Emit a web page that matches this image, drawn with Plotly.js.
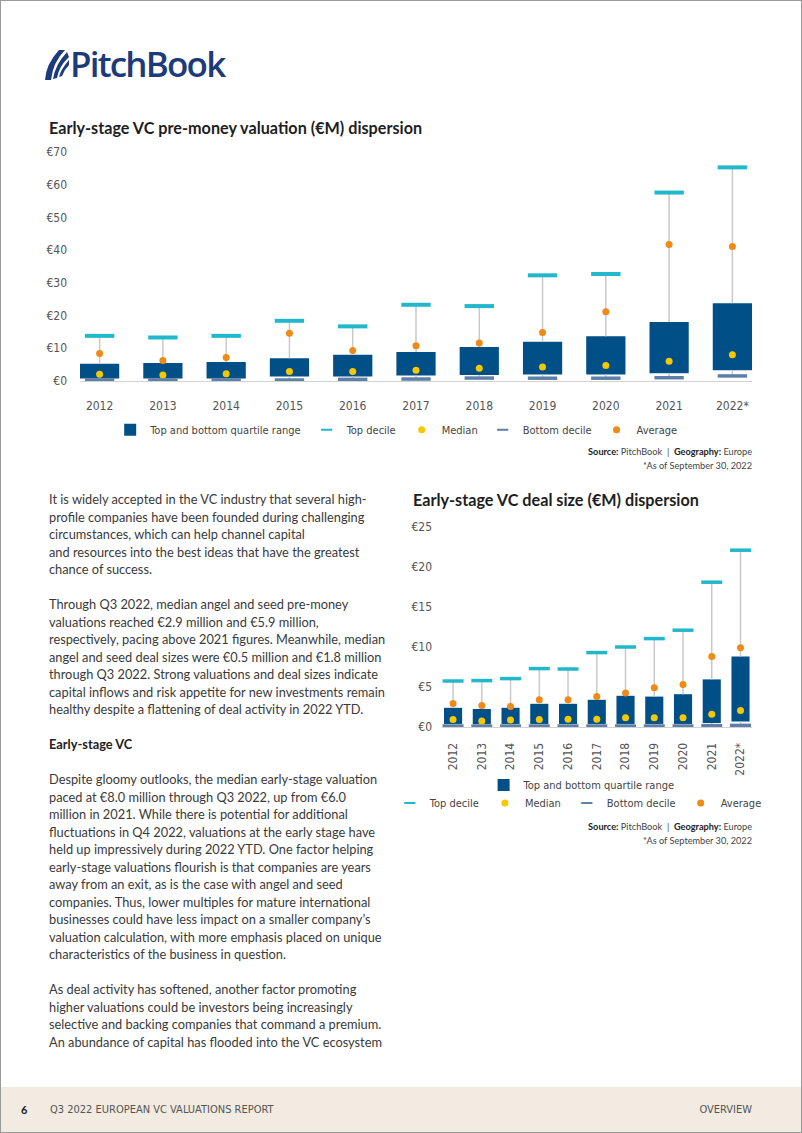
<!DOCTYPE html>
<html>
<head>
<meta charset="utf-8">
<script src="https://cdn.plot.ly/plotly-3.0.1.min.js"></script>
<style>
  html, body { margin:0; padding:0; }
  body { width:802px; height:1133px; position:relative; background:#fff; overflow:hidden; font-family: Lato, "Open Sans", sans-serif; }
  .frame { position:absolute; left:0; top:0; width:800px; height:1131px; border:1px solid #9a9a9a; pointer-events:none; z-index:5; }
  .logo { position:absolute; left:44px; top:49px; }
  .logotext { position:absolute; left:70px; top:39px; font-family:"Open Sans", Lato, sans-serif; font-weight:600; font-size:35px; letter-spacing:-1.8px; color:#1c3b7b; line-height:50px; }
  .ctitle { position:absolute; font-family:Lato, sans-serif; font-weight:700; font-size:16.2px; color:#1e1e1e; white-space:nowrap; line-height:20px; }
  .source { position:absolute; right:50px; font-family:Lato, sans-serif; font-size:9.2px; color:#444; text-align:right; line-height:14px; white-space:nowrap; }
  .source b { color:#222; }
  .bodytext { position:absolute; left:49px; top:491px; font-family:Lato, sans-serif; font-size:12.8px; line-height:17.5px; color:#3a3a3a; white-space:nowrap; }
  .bodytext b { color:#222; }
  .footer { position:absolute; left:0; top:1087px; width:802px; height:46px; background:#f1ebe1; font-family:"Liberation Sans Narrow", "DejaVu Sans Condensed", sans-serif; font-size:11px; color:#555; }
  .footer .pg { position:absolute; left:21px; top:16px; font-family:Lato, sans-serif; font-weight:700; font-size:11px; color:#222; }
  .footer .rep { position:absolute; left:50px; top:16px; }
  .footer .sec { position:absolute; right:50px; top:16px; }
  #chart1 { position:absolute; left:0; top:140px; width:802px; height:310px; }
  #chart2 { position:absolute; left:400px; top:515px; width:402px; height:320px; }
</style>
</head>
<body>
<div class="frame"></div>
<svg class="logo" width="26" height="32" viewBox="0 0 26 32">
  <path d="M1,31 Q2,15 15,1 L21,1 Q9,13 7,31 Z" fill="#1c3b7b"/>
  <path d="M9,30 Q11,16 23,3 L25,8 Q15,17 13,29 Z" fill="#1c3b7b"/>
  <path d="M15,28 Q17,20 25,11 L25,16 Q20,21 18,27 Z" fill="#1c3b7b"/>
</svg>
<div class="logotext">PitchBook</div>

<div class="ctitle" style="left:49px; top:118px;">Early-stage VC pre-money valuation (€M) dispersion</div>
<div id="chart1"></div>
<div class="source" style="top:445px;"><b>Source:</b> PitchBook &nbsp;|&nbsp; <b>Geography:</b> Europe<br>*As of September 30, 2022</div>

<div class="ctitle" style="left:413px; top:490px;">Early-stage VC deal size (€M) dispersion</div>
<div id="chart2"></div>
<div class="source" style="top:820px;"><b>Source:</b> PitchBook &nbsp;|&nbsp; <b>Geography:</b> Europe<br>*As of September 30, 2022</div>

<div class="bodytext">It is widely accepted in the VC industry that several high-<br>profile companies have been founded during challenging<br>circumstances, which can help channel capital<br>and resources into the best ideas that have the greatest<br>chance of success.<br><br>Through Q3 2022, median angel and seed pre-money<br>valuations reached €2.9 million and €5.9 million,<br>respectively, pacing above 2021 figures. Meanwhile, median<br>angel and seed deal sizes were €0.5 million and €1.8 million<br>through Q3 2022. Strong valuations and deal sizes indicate<br>capital inflows and risk appetite for new investments remain<br>healthy despite a flattening of deal activity in 2022 YTD.<br><br><b>Early-stage VC</b><br><br>Despite gloomy outlooks, the median early-stage valuation<br>paced at €8.0 million through Q3 2022, up from €6.0<br>million in 2021. While there is potential for additional<br>fluctuations in Q4 2022, valuations at the early stage have<br>held up impressively during 2022 YTD. One factor helping<br>early-stage valuations flourish is that companies are years<br>away from an exit, as is the case with angel and seed<br>companies. Thus, lower multiples for mature international<br>businesses could have less impact on a smaller company’s<br>valuation calculation, with more emphasis placed on unique<br>characteristics of the business in question.<br><br>As deal activity has softened, another factor promoting<br>higher valuations could be investors being increasingly<br>selective and backing companies that command a premium.<br>An abundance of capital has flooded into the VC ecosystem</div>

<div class="footer"><span class="pg">6</span><span class="rep">Q3 2022 EUROPEAN VC VALUATIONS REPORT</span><span class="sec">OVERVIEW</span></div>

<script>
// ---------- Data ----------
const years = ["2012","2013","2014","2015","2016","2017","2018","2019","2020","2021","2022*"];

// Chart 1: Early-stage VC pre-money valuation (€M)
const valTopDecile    = [13.8, 13.3, 13.8, 18.4, 16.7, 23.3, 22.9, 32.3, 32.7, 57.6, 65.3];
const valTopQuartile  = [5.3, 5.5, 5.8, 6.95, 8.0, 8.9, 10.4, 12.0, 13.7, 18.0, 23.8];
const valBotQuartile  = [0.8, 0.8, 0.8, 1.35, 1.35, 1.65, 1.85, 1.95, 1.95, 2.35, 3.3];
const valBotDecile    = [0.3, 0.3, 0.3, 0.3, 0.5, 0.6, 0.9, 0.85, 0.85, 1.0, 1.55];
const valMedian       = [2.05, 1.85, 2.25, 2.9, 2.9, 3.3, 3.9, 4.3, 4.7, 6.0, 8.0];
const valAverage      = [8.4, 6.3, 7.2, 14.6, 9.3, 10.8, 11.6, 14.8, 21.2, 41.7, 41.1];

// Chart 2: Early-stage VC deal size (€M)
const dealTopDecile   = [5.75, 5.8, 6.05, 7.3, 7.25, 9.3, 10.0, 11.05, 12.1, 18.1, 22.1];
const dealTopQuartile = [2.4, 2.25, 2.4, 2.9, 2.9, 3.4, 3.9, 3.8, 4.1, 5.95, 8.8];
const dealBotQuartile = [0.38, 0.33, 0.38, 0.38, 0.38, 0.38, 0.38, 0.38, 0.38, 0.5, 0.7];
const dealBotDecile   = [0.12, 0.1, 0.12, 0.12, 0.12, 0.12, 0.12, 0.12, 0.12, 0.17, 0.2];
const dealMedian      = [0.95, 0.75, 0.87, 0.95, 0.97, 0.97, 1.17, 1.17, 1.17, 1.6, 2.05];
const dealAverage     = [2.95, 2.7, 2.55, 3.4, 3.4, 3.8, 4.25, 4.9, 5.3, 8.8, 9.9];

const yTicks1 = [0,10,20,30,40,50,60,70];
const yTicks2 = [0,5,10,15,20,25];

// ---------- Styles ----------
const C = {
  box: "#004f86", top: "#22b8cc", bot: "#5c80a8", med: "#f6c800", avg: "#ef8a17",
  whisk: "#c9c9c9", axis: "#d2d2d2", tick: "#555555"
};
const condensed = '"Liberation Sans Narrow", "DejaVu Sans Condensed", sans-serif';

function buildTraces(q1, q3, top, bot, med, avg, boxWidth, decileSize, decileW, L) {
  const wx = [], wy = [];
  years.forEach((yr, i) => {
    wx.push(yr, yr, null, yr, yr, null);
    wy.push(q3[i], top[i], null, q1[i], bot[i], null);
  });
  return [
    { type:"scatter", mode:"lines", x:wx, y:wy, line:{color:C.whisk, width:1.5},
      showlegend:false, hoverinfo:"skip", cliponaxis:false },
    { type:"bar", name:"Top and bottom quartile range", x:years,
      y:q3.map((v,i)=>v-q1[i]), base:q1, width:boxWidth,
      marker:{color:C.box, line:{width:0}}, legend:L.bar },
    { type:"scatter", mode:"markers", name:"Top decile", x:years, y:top, showlegend:false,
      marker:{symbol:"line-ew", size:decileSize, color:C.top, line:{color:C.top, width:decileW}}, cliponaxis:false },
    { type:"scatter", mode:"markers", name:"Top decile", x:[null], y:[null],
      marker:{symbol:"line-ew", size:8, color:C.top, line:{color:C.top, width:2}}, legend:L.a },
    { type:"scatter", mode:"markers", name:"Median", x:years, y:med,
      marker:{symbol:"circle", size:7, color:C.med}, cliponaxis:false, legend:L.a },
    { type:"scatter", mode:"markers", name:"Bottom decile", x:years, y:bot, showlegend:false,
      marker:{symbol:"line-ew", size:decileSize, color:C.bot, line:{color:C.bot, width:3.5}}, cliponaxis:false },
    { type:"scatter", mode:"markers", name:"Bottom decile", x:[null], y:[null],
      marker:{symbol:"line-ew", size:8, color:C.bot, line:{color:C.bot, width:2}}, legend:L.b },
    { type:"scatter", mode:"markers", name:"Average", x:years, y:avg,
      marker:{symbol:"circle", size:7, color:C.avg}, cliponaxis:false, legend:L.b }
  ];
}

const legendFont = {family:condensed, size:11, color:"#444"};
const legBase = {orientation:"h", xref:"container", yref:"container", yanchor:"middle",
                 font:legendFont, itemwidth:30, traceorder:"normal", bgcolor:"rgba(0,0,0,0)"};

// ---------- Chart 1 ----------
const traces1 = buildTraces(valBotQuartile, valTopQuartile, valTopDecile, valBotDecile, valMedian, valAverage,
                            0.62, 21, 4, {bar:"legend", a:"legend", b:"legend"});
const layout1 = {
  width:802, height:310,
  margin:{l:80, r:50, t:12, b:69},
  paper_bgcolor:"rgba(0,0,0,0)", plot_bgcolor:"rgba(0,0,0,0)",
  barmode:"overlay",
  showlegend:true,
  legend:Object.assign({}, legBase, {x:0.494, xanchor:"center", y:0.065}),
  xaxis:{type:"category", range:[-0.31, 10.31], showgrid:false, zeroline:false,
         showline:true, linecolor:C.axis, linewidth:1, ticks:"", ticklabelstandoff:14,
         tickfont:{family:condensed, size:12, color:C.tick}, fixedrange:true},
  yaxis:{range:[0,70], tickvals:yTicks1, ticktext:yTicks1.map(v=>"€"+v), showgrid:false,
         zeroline:false, showline:false, ticks:"", ticklabelstandoff:12,
         tickfont:{family:condensed, size:12, color:C.tick}, fixedrange:true},
  hovermode:false
};
Plotly.newPlot("chart1", traces1, layout1, {staticPlot:true, displayModeBar:false});

// ---------- Chart 2 ----------
const traces2 = buildTraces(dealBotQuartile, dealTopQuartile, dealTopDecile, dealBotDecile, dealMedian, dealAverage,
                            0.63, 15, 3.5, {bar:"legend", a:"legend2", b:"legend3"});
const layout2 = {
  width:402, height:320,
  margin:{l:43, r:50, t:12, b:108},
  paper_bgcolor:"rgba(0,0,0,0)", plot_bgcolor:"rgba(0,0,0,0)",
  barmode:"overlay",
  showlegend:true,
  legend:Object.assign({}, legBase, {x:0.453, xanchor:"center", y:0.156}),
  legend2:Object.assign({}, legBase, {x:0.415, xanchor:"right", y:0.1}),
  legend3:Object.assign({}, legBase, {x:0.415, xanchor:"left", y:0.1}),
  xaxis:{type:"category", range:[-0.35, 10.4], showgrid:false, zeroline:false,
         showline:true, linecolor:C.axis, linewidth:1, ticks:"", tickangle:-90, ticklabelstandoff:10,
         tickfont:{family:condensed, size:12, color:C.tick}, fixedrange:true},
  yaxis:{range:[0,25], tickvals:yTicks2, ticktext:yTicks2.map(v=>"€"+v), showgrid:false,
         zeroline:false, showline:false, ticks:"", ticklabelstandoff:10,
         tickfont:{family:condensed, size:12, color:C.tick}, fixedrange:true},
  hovermode:false
};
Plotly.newPlot("chart2", traces2, layout2, {staticPlot:true, displayModeBar:false});
</script>
</body>
</html>
